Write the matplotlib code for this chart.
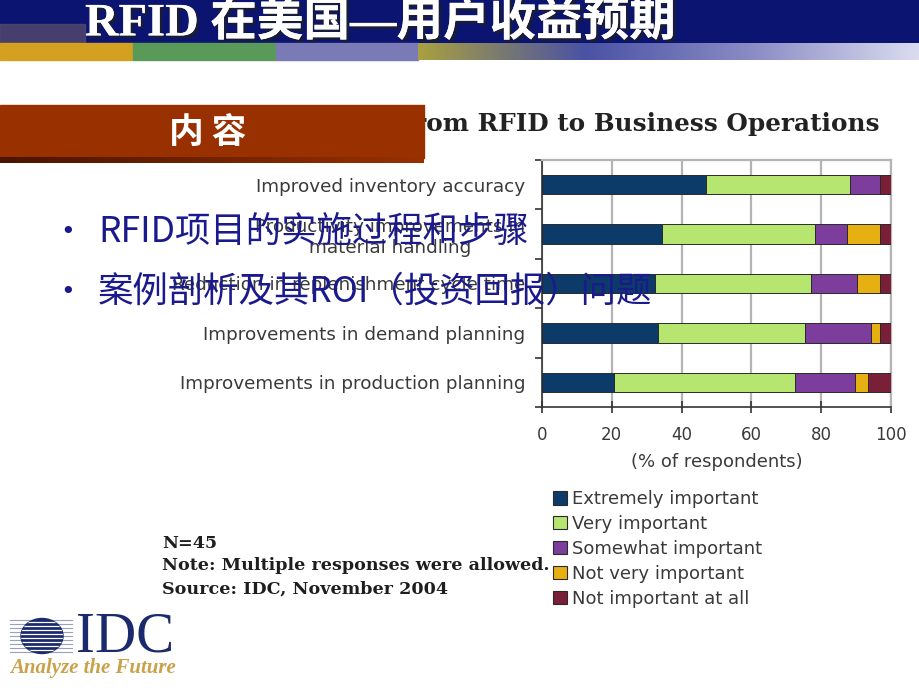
import numpy as np
import matplotlib
matplotlib.use('Agg')
import matplotlib.pyplot as plt
from matplotlib.patches import Rectangle, Ellipse, Patch
from matplotlib.colors import LinearSegmentedColormap
import matplotlib.patheffects as pe

W, H = 920, 690

# --- data (% of respondents) ---
categories = [
    "Improved inventory accuracy",
    "Productivity improvements in\nmaterial handling",
    "Reduction in replenishment cycle time",
    "Improvements in demand planning",
    "Improvements in production planning",
]
series_names = ["Extremely important", "Very important", "Somewhat important",
                "Not very important", "Not important at all"]
extremely  = [47.0, 34.5, 32.4, 33.3, 20.5]
very       = [41.3, 43.6, 44.8, 42.2, 51.9]
somewhat   = [8.6, 9.2, 13.0, 18.7, 17.3]
not_very   = [0.0, 9.6, 6.7, 2.7, 3.6]
not_at_all = [3.1, 3.1, 3.1, 3.1, 6.7]
x_ticks = [0, 20, 40, 60, 80, 100]

colors = ['#0d3b69', '#b6e66f', '#7d3d9c', '#e6b012', '#7a1f38']

slide_title = "RFID 在美国—用户收益预期"
chart_title = "Importance of Benefits from RFID to Business Operations"
bullets = ["RFID项目的实施过程和步骤", "案例剖析及其ROI（投资回报）问题"]
notes = ["N=45", "Note: Multiple responses were allowed.", "Source: IDC, November 2004"]

fig = plt.figure(figsize=(W / 100, H / 100), dpi=100)
fig.patch.set_facecolor('white')

# --- chart axes, placed in pixel coords ---
left, right, top, bottom = 542, 891, 160, 407
ax = fig.add_axes([left / W, 1 - bottom / H, (right - left) / W, (bottom - top) / H], zorder=1)

ypos = np.arange(len(categories))
series = [extremely, very, somewhat, not_very, not_at_all]
base = np.zeros(len(categories))
for name, vals, c in zip(series_names, series, colors):
    vals = np.array(vals)
    ax.barh(ypos, vals, left=base, height=0.39, color=c, edgecolor='#2a2a2a',
            linewidth=0.7, label=name, zorder=3)
    base += vals

ax.set_xlim(0, 100)
ax.set_ylim(4.5, -0.5)
ax.set_xticks(x_ticks)
ax.set_xticklabels([str(t) for t in x_ticks], fontsize=12, color='#3a3a3a')
ax.set_yticks(ypos)
ax.set_yticklabels(categories, fontsize=13.2, color='#3a3a3a')
for lab in ax.get_yticklabels():
    lab.set_multialignment('center')
ax.set_yticks(np.arange(-0.5, 5.0, 1.0), minor=True)
ax.tick_params(axis='y', which='major', length=0, pad=12)
ax.tick_params(axis='y', which='minor', length=5, width=1.2, color='#333333', direction='out')
ax.tick_params(axis='x', length=9, width=1.2, color='#333333', direction='inout', pad=9)
ax.set_xlabel("(% of respondents)", fontsize=13, color='#3a3a3a', labelpad=7)

ax.grid(axis='x', color='#b4b4b4', linewidth=1.6, zorder=0)
for s in ['top', 'right']:
    ax.spines[s].set_color('#b4b4b4')
    ax.spines[s].set_linewidth(1.6)
for s in ['left', 'bottom']:
    ax.spines[s].set_color('#333333')
    ax.spines[s].set_linewidth(1.2)

handles = [Patch(facecolor=c, edgecolor='#2a2a2a', linewidth=0.8) for c in colors]
fig.legend(handles, series_names, loc='upper left', bbox_to_anchor=(546 / W, 1 - 483 / H),
           frameon=False, fontsize=13, handlelength=0.75, handleheight=0.75,
           handletextpad=0.3, labelspacing=0.38, labelcolor='#3a3a3a', borderaxespad=0)

# --- overlay for slide decorations (pixel coords) ---
ov = fig.add_axes([0, 0, 1, 1], zorder=5)
ov.patch.set_alpha(0)
ov.axis('off')

# header band
ov.add_patch(Rectangle((0, 0), W, 44, color='#0b1470', zorder=1))
ov.add_patch(Rectangle((0, 24), 85, 20, color='#56496c', alpha=0.8, zorder=1))
strip_blocks = [(0, 133, '#d4a020'), (133, 276, '#5a9a58'), (276, 418, '#7a7ab6')]
for x0, x1, c in strip_blocks:
    ov.add_patch(Rectangle((x0, 43), x1 - x0, 17, color=c, zorder=1))
grad = LinearSegmentedColormap.from_list('strip', ['#a8a040', '#4a52a4', '#8a8cc4', '#dcdcf0'])
ov.imshow(np.linspace(0, 1, 256)[None, :], cmap=grad, aspect='auto',
          extent=(418, W, 60, 43), zorder=1)
ov.text(85, 23, slide_title, color='white', fontsize=33.5, va='center', ha='left',
        family=['Liberation Serif', 'Noto Sans CJK SC'], fontweight='bold', zorder=2,
        path_effects=[pe.withSimplePatchShadow(offset=(2, -2), shadow_rgbFace='#202020', alpha=0.7),
                      pe.Normal()])

# chart title (partly hidden behind the box)
ov.text(880, 124, chart_title, fontsize=17.8, fontweight='bold', family='DejaVu Serif',
        color='#222222', ha='right', va='center', zorder=2)

# "内容" box
ov.add_patch(Rectangle((0, 105), 424, 53, color='#983000', zorder=3))
shadow = LinearSegmentedColormap.from_list('sh', ['#4a1400', '#983000'])
ov.imshow(np.linspace(0, 1, 256)[None, :], cmap=shadow, aspect='auto',
          extent=(0, 424, 163, 157), zorder=3)
ov.text(208, 133, "内 容", color='white', fontsize=25, fontweight='bold',
        family=['Noto Sans CJK SC', 'DejaVu Sans'], ha='center', va='center', zorder=4)

# bullets
for yy, txt in zip([232, 292], bullets):
    ov.text(68, yy, "•", color='#1a1a8c', fontsize=18, ha='center', va='center', zorder=4)
    ov.text(98, yy, txt, color='#1a1a8c', fontsize=25.5,
            family=['Noto Sans CJK SC', 'DejaVu Sans'], ha='left', va='center', zorder=4)

# notes
for yy, txt in zip([543, 566, 589], notes):
    ov.text(162, yy, txt, fontsize=12.6, fontweight='bold', family='DejaVu Serif',
            color='#1e1e1e', ha='left', va='center', zorder=2)

# IDC logo
for yy in np.arange(620, 654, 4):
    ov.plot([10, 72], [yy, yy], color='#9aa0b8', linewidth=0.8, zorder=2)
globe = Ellipse((42, 636), 42, 35, color='#1a2a6c', zorder=3)
ov.add_patch(globe)
for yy in np.arange(622, 652, 4):
    ln, = ov.plot([18, 66], [yy, yy], color='white', linewidth=0.9, zorder=4)
    ln.set_clip_path(globe)
ov.text(76, 637, "IDC", fontsize=41, family='Liberation Serif', color='#1a2a6c',
        ha='left', va='center', zorder=3)
ov.text(10, 668, "Analyze the Future", fontsize=15, family='Liberation Serif',
        style='italic', fontweight='bold', color='#c9a24a', ha='left', va='center', zorder=3)

ov.set_xlim(0, W)
ov.set_ylim(H, 0)

fig.savefig('out.png', dpi=100)
